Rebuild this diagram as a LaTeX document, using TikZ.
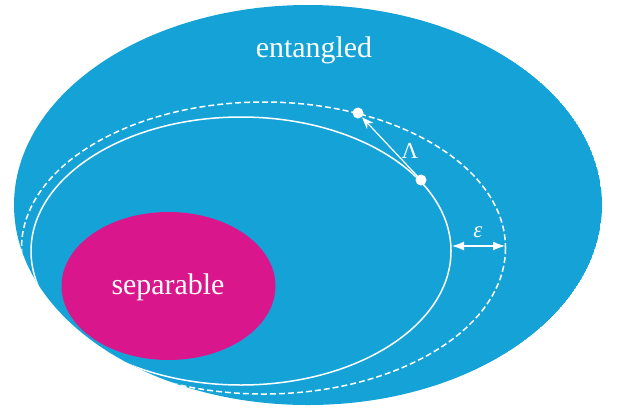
\documentclass[tikz,border=0pt]{standalone}
\usepackage{fontspec}
\setmainfont{Liberation Serif}
\usetikzlibrary{arrows.meta}
\definecolor{entblue}{RGB}{21,163,215}
\definecolor{sepmag}{RGB}{217,22,140}

\begin{document}
\begin{tikzpicture}[x=1bp,y=-1bp,
  thick, white,
  dot/.style={circle,fill=white,inner sep=0pt,minimum size=11bp},
  set label/.style={font=\fontsize{30}{30}\selectfont,text=white},
  greek/.style={font=\fontsize{23}{23}\selectfont,text=white}]
  \useasboundingbox (0,0) rectangle (625,412);
  \begin{scope}
  \clip (308,205) ellipse [x radius=294, y radius=200];
  \fill[entblue] (308,205) ellipse [x radius=294, y radius=200];
  % the two white boundaries
  \draw[line width=1.5bp] (241,251) ellipse [x radius=210, y radius=134];
  \draw[line width=1.5bp, dash pattern=on 6bp off 3bp] (263.5,248) ellipse [x radius=242, y radius=146];
  \fill[sepmag] (168.5,286) ellipse [x radius=107, y radius=74];
  \end{scope}

  \node[set label] (ent) at (314,50) {entangled};
  \node[set label] (sep) at (168,287) {separable};

  \node[dot] (rho) at (421,180) {};
  \node[dot] (lrho) at (358,113) {};
  \node[greek] (lam) at (410,151) {Λ};

  \coordinate (inner) at (452,246);
  \coordinate (outer) at (505,246);
  \node[greek] (eps) at (478,232) {\itshape ε};

  \draw[-{Stealth[length=12bp,width=9bp]}, line width=1.2bp] (rho.center) -- (lrho);
  \draw[{Latex[length=12bp,width=9bp]}-{Latex[length=12bp,width=9bp]}, line width=1.2bp] (inner) -- (outer);
\end{tikzpicture}
\end{document}
